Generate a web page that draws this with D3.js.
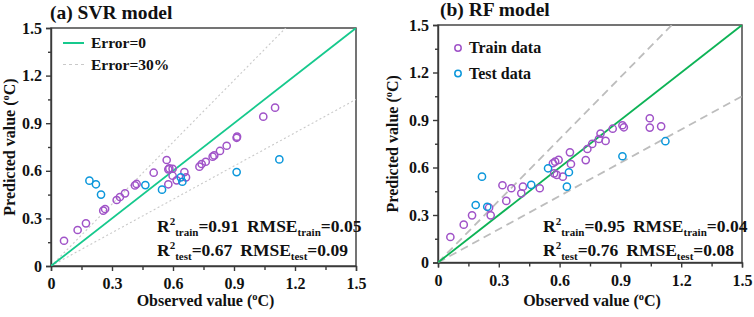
<!DOCTYPE html>
<html>
<head>
<meta charset="utf-8">
<script src="https://cdn.jsdelivr.net/npm/d3@7"></script>
<style>
  body { margin: 0; background: #fff; }
  svg { display: block; font-family: "Liberation Serif", "Times New Roman", serif; font-weight: bold; }
</style>
</head>
<body>
<svg id="chart" width="754" height="317"></svg>
<script>
// [observed, predicted] pairs
const svrTrain = [
  [0.064, 0.159], [0.131, 0.227], [0.172, 0.269], [0.257, 0.349], [0.266, 0.359],
  [0.323, 0.416], [0.339, 0.435], [0.364, 0.458], [0.413, 0.508], [0.421, 0.517],
  [0.505, 0.588], [0.569, 0.668], [0.577, 0.609], [0.582, 0.615], [0.598, 0.613],
  [0.577, 0.515], [0.598, 0.569], [0.618, 0.540], [0.656, 0.592], [0.664, 0.559],
  [0.730, 0.626], [0.741, 0.643], [0.761, 0.657], [0.795, 0.689], [0.803, 0.697],
  [0.831, 0.725], [0.864, 0.758], [0.913, 0.808], [0.915, 0.815], [1.044, 0.941],
  [1.102, 0.998]
];
const svrTest = [
  [0.189, 0.538], [0.221, 0.515], [0.246, 0.450], [0.464, 0.510], [0.546, 0.481],
  [0.638, 0.559], [0.646, 0.531], [0.913, 0.592], [1.123, 0.672]
];
const rfTrain = [
  [0.061, 0.161], [0.127, 0.239], [0.168, 0.298], [0.260, 0.298], [0.252, 0.346],
  [0.337, 0.389], [0.318, 0.488], [0.362, 0.469], [0.411, 0.437], [0.419, 0.479],
  [0.502, 0.469], [0.567, 0.627], [0.578, 0.637], [0.595, 0.648], [0.573, 0.563],
  [0.586, 0.553], [0.616, 0.542], [0.651, 0.696], [0.656, 0.622], [0.729, 0.647],
  [0.737, 0.717], [0.761, 0.749], [0.794, 0.780], [0.802, 0.814], [0.827, 0.768],
  [0.862, 0.845], [0.910, 0.867], [0.917, 0.854], [1.045, 0.911], [1.045, 0.852],
  [1.101, 0.860]
];
const rfTest = [
  [0.217, 0.542], [0.186, 0.363], [0.243, 0.352], [0.460, 0.490], [0.543, 0.595],
  [0.646, 0.570], [0.636, 0.479], [0.910, 0.671], [1.122, 0.766]
];

const majorTicks = [0, 0.3, 0.6, 0.9, 1.2, 1.5];
const minorTicks = [0.15, 0.45, 0.75, 1.05, 1.35];
const errorSlopes = [1.3, 0.7];
const svrStats = { r2Train: "0.91", rmseTrain: "0.05", r2Test: "0.67", rmseTest: "0.09" };
const rfStats = { r2Train: "0.95", rmseTrain: "0.04", r2Test: "0.76", rmseTest: "0.08" };

const purple = "#a053c8";
const blue = "#0b97db";

const svg = d3.select("#chart");

const panels = [
  {
    id: "a", title: "(a) SVR model", titleX: 50, titleY: 19,
    left: 51, right: 356, top: 28, bottom: 266, yTitleX: 9,
    train: svrTrain, test: svrTest, stats: svrStats, statX: 157,
    oneColor: "#16c98d", errColor: "#c9c9c9", errDash: "2,2.5", errWidth: 1.1,
    legend: "lines"
  },
  {
    id: "b", title: "(b) RF model", titleX: 440, titleY: 16,
    left: 438, right: 742, top: 25, bottom: 262.5, yTitleX: 392,
    train: rfTrain, test: rfTest, stats: rfStats, statX: 543,
    oneColor: "#0db356", errColor: "#bdbdbd", errDash: "8,5", errWidth: 1.8,
    legend: "points"
  }
];

const addUnitTitle = (sel, label) => {
  sel.append("tspan").text(label + " (");
  sel.append("tspan").attr("dy", -6).attr("font-size", "10.5px").text("o");
  sel.append("tspan").attr("dy", 6).text("C)");
};

panels.forEach((p) => {
  const x = d3.scaleLinear().domain([0, 1.5]).range([p.left, p.right]);
  const y = d3.scaleLinear().domain([0, 1.5]).range([p.bottom, p.top]);
  const g = svg.append("g");

  g.append("clipPath").attr("id", `clip-${p.id}`)
    .append("rect")
    .attr("x", p.left).attr("y", p.top)
    .attr("width", p.right - p.left).attr("height", p.bottom - p.top);

  // frame
  g.append("rect")
    .attr("x", p.left).attr("y", p.top)
    .attr("width", p.right - p.left).attr("height", p.bottom - p.top)
    .attr("fill", "none").attr("stroke", "#3a3a3a").attr("stroke-width", 1.4);

  const fmt = (d) => (d === 0 ? "0" : d.toFixed(1));

  // axes
  const xAxis = g.append("g").attr("transform", `translate(0,${p.bottom})`)
    .call(d3.axisBottom(x).tickValues(majorTicks).tickFormat(fmt).tickSize(5).tickPadding(7));
  g.append("g").attr("transform", `translate(0,${p.bottom})`)
    .call(d3.axisBottom(x).tickValues(minorTicks).tickFormat("").tickSize(4))
    .select(".domain").remove();
  const yAxis = g.append("g").attr("transform", `translate(${p.left},0)`)
    .call(d3.axisLeft(y).tickValues(majorTicks).tickFormat(fmt).tickSize(5).tickPadding(4));
  g.append("g").attr("transform", `translate(${p.left},0)`)
    .call(d3.axisLeft(y).tickValues(minorTicks).tickFormat("").tickSize(3))
    .select(".domain").remove();

  g.selectAll(".domain, .tick line").attr("stroke", "#3a3a3a").attr("stroke-width", 1.4);
  [xAxis, yAxis].forEach((a) => a.selectAll("text")
    .attr("font-family", "Liberation Serif").attr("font-weight", "bold")
    .attr("font-size", "16px").attr("fill", "#111"));

  // reference lines
  const lines = g.append("g").attr("clip-path", `url(#clip-${p.id})`);
  errorSlopes.forEach((s) => {
    lines.append("line")
      .attr("x1", x(0)).attr("y1", y(0))
      .attr("x2", x(1.5)).attr("y2", y(1.5 * s))
      .attr("stroke", p.errColor).attr("stroke-width", p.errWidth)
      .attr("stroke-dasharray", p.errDash);
  });
  lines.append("line")
    .attr("x1", x(0)).attr("y1", y(0))
    .attr("x2", x(1.5)).attr("y2", y(1.5))
    .attr("stroke", p.oneColor).attr("stroke-width", 1.8);

  // points
  const drawPoints = (data, color) => {
    g.append("g").selectAll("circle")
      .data(data)
      .join("circle")
      .attr("cx", (d) => x(d[0]))
      .attr("cy", (d) => y(d[1]))
      .attr("r", 3.6)
      .attr("fill", "none")
      .attr("stroke", color)
      .attr("stroke-width", 1.5);
  };
  drawPoints(p.train, purple);
  drawPoints(p.test, blue);

  // titles
  g.append("text").attr("x", p.titleX).attr("y", p.titleY)
    .attr("font-size", "19.5px").attr("fill", "#111").text(p.title);

  g.append("text")
    .attr("x", (p.left + p.right) / 2 + 2).attr("y", 306)
    .attr("text-anchor", "middle").attr("font-size", "16px").attr("fill", "#111")
    .call(addUnitTitle, "Observed value");

  g.append("text")
    .attr("transform", `translate(${p.yTitleX},${(p.top + p.bottom) / 2}) rotate(-90)`)
    .attr("dy", "0.35em")
    .attr("text-anchor", "middle").attr("font-size", "16px").attr("fill", "#111")
    .call(addUnitTitle, "Predicted value");

  // statistics
  const statRow = (yPos, part, r2, rmse) => {
    const t = g.append("text").attr("x", p.statX).attr("y", yPos)
      .attr("font-size", "17.5px").attr("fill", "#111");
    t.append("tspan").text("R");
    t.append("tspan").attr("dy", -7).attr("font-size", "11px").text("2");
    t.append("tspan").attr("dy", 11).attr("font-size", "11px").text(part);
    t.append("tspan").attr("dy", -4).text(`=${r2}`);
    t.append("tspan").attr("dx", 8).text("RMSE");
    t.append("tspan").attr("dy", 4).attr("font-size", "11px").text(part);
    t.append("tspan").attr("dy", -4).text(`=${rmse}`);
  };
  statRow(232, "train", p.stats.r2Train, p.stats.rmseTrain);
  statRow(256, "test", p.stats.r2Test, p.stats.rmseTest);

  // legends
  if (p.legend === "lines") {
    const items = [
      { label: "Error=0", color: p.oneColor, dash: null, w: 2 },
      { label: "Error=30%", color: p.errColor, dash: "3,3", w: 1.2 }
    ];
    items.forEach((it, i) => {
      const ly = 43 + i * 21.5;
      g.append("line").attr("x1", 63).attr("x2", 84).attr("y1", ly).attr("y2", ly)
        .attr("stroke", it.color).attr("stroke-width", it.w)
        .attr("stroke-dasharray", it.dash);
      g.append("text").attr("x", 91).attr("y", ly + 5)
        .attr("font-size", "15.5px").attr("fill", "#111").text(it.label);
    });
  } else {
    const items = [
      { label: "Train data", color: purple },
      { label: "Test data", color: blue }
    ];
    items.forEach((it, i) => {
      const ly = 48 + i * 25.5;
      g.append("circle").attr("cx", 458).attr("cy", ly).attr("r", 3.2)
        .attr("fill", "none").attr("stroke", it.color).attr("stroke-width", 1.5);
      g.append("text").attr("x", 469).attr("y", ly + 5)
        .attr("font-size", "16px").attr("fill", "#111").text(it.label);
    });
  }
});
</script>
</body>
</html>
